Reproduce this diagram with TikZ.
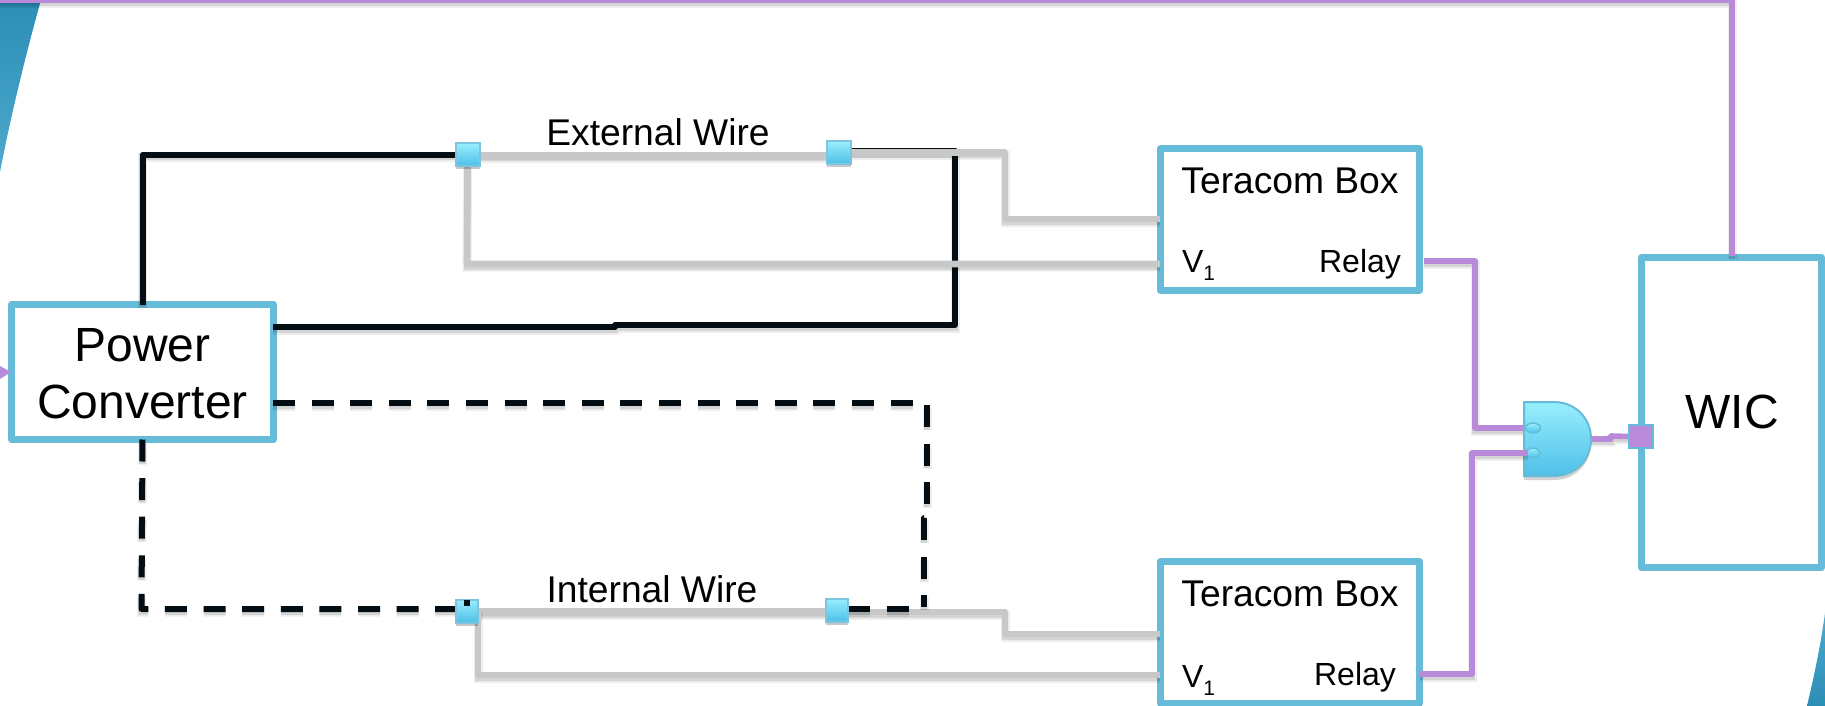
\documentclass[tikz,border=0pt]{standalone}
\usepackage{fontspec}
\setmainfont{Liberation Sans}
\pgfdeclarelayer{back}
\pgfdeclarelayer{front}
\pgfsetlayers{back,main,front}
\definecolor{boxblue}{HTML}{66BBD9}
\definecolor{wirepurple}{HTML}{B88AD9}
\definecolor{wiregrey}{HTML}{C8C8C8}
\definecolor{wireblack}{HTML}{020E14}
\definecolor{gradtop}{HTML}{98EFFD}
\definecolor{gradbot}{HTML}{4FBFE8}
\definecolor{cornerdark}{HTML}{2C8DB6}
\definecolor{cornerlight}{HTML}{4DAACD}
\tikzset{
  x=0.5pt,y=-0.5pt,
  shadowed/.style={preaction={draw=black,opacity=.07,line width=4.5pt,transform canvas={yshift=-1.6pt}},
                   preaction={draw=black,opacity=.10,line width=3.2pt,transform canvas={yshift=-1.3pt}}},
  dashshadowed/.style={preaction={draw=black,opacity=.07,line width=4.5pt,dash pattern=on 11pt off 8.3pt,transform canvas={yshift=-1.6pt}},
                   preaction={draw=black,opacity=.10,line width=3.2pt,dash pattern=on 11pt off 8.3pt,transform canvas={yshift=-1.3pt}}},
  blackwire/.style={shadowed,line join=round,draw=wireblack,line width=3pt},
  dashwire/.style={dashshadowed,line join=round,draw=wireblack,line width=3pt,dash pattern=on 11pt off 8.3pt},
  greywire/.style={shadowed,line join=round,draw=wiregrey,line width=3.3pt},
  purplewire/.style={shadowed,line join=round,draw=wirepurple,line width=2.8pt},
  bluebox/.style={draw=boxblue,line width=3.5pt,fill=white,line join=round,inner sep=0pt,outer sep=0pt},
  junction/.style={draw=boxblue!85!white,line width=1pt,top color=gradtop,bottom color=gradbot,minimum width=12pt,minimum height=11.5pt,inner sep=0pt,outer sep=0pt,
    preaction={draw=none,fill=black,opacity=.22,transform canvas={yshift=-1.6pt}}},
  plabel/.style={inner sep=0pt,outer sep=0pt,text=black},
  bigfont/.style={font=\fontsize{24}{28.5}\selectfont},
  midfont/.style={font=\fontsize{18.6}{22}\selectfont},
  wirefont/.style={font=\fontsize{18.6}{22}\selectfont},
  smallfont/.style={font=\fontsize{16}{18}\selectfont},
}
\newcommand{\vone}{V\raisebox{-4pt}{\fontsize{10.5}{10.5}\selectfont 1}}
\begin{document}
\begin{tikzpicture}
\useasboundingbox (0,0) rectangle (1825,706);
\begin{pgfonlayer}{back}
  \fill[white] (0,0) rectangle (1825,706);
  % decorative corners
  \shade[top color=cornerdark,bottom color=cornerlight]
    (0,0) -- (41,0) .. controls (27,50) and (12,110) .. (0,172) -- cycle;
  \shade[top color=cornerlight,bottom color=cornerdark]
    (1825,613) .. controls (1820,650) and (1813,680) .. (1807,706) -- (1825,706) -- cycle;
  % boxes
  \node[bluebox,minimum width=131pt,minimum height=67.5pt] (pc) at (142.5,372) {};
  \node[bluebox,minimum width=129.5pt,minimum height=71pt] (tera1) at (1290,219.5) {};
  \node[bluebox,minimum width=129.5pt,minimum height=70.75pt] (tera2) at (1290,632.25) {};
  \node[bluebox,minimum width=90pt,minimum height=155pt] (wic) at (1731.5,412.5) {};
\end{pgfonlayer}
% labels
\node[plabel,bigfont,align=center] (pclabel) at (142.5,373.5) {Power\\Converter};
\node[plabel,midfont] (t1) at (1290,181) {Teracom Box};
\node[plabel,midfont] (t2) at (1290,594) {Teracom Box};
\node[plabel,smallfont,anchor=base west] (v1) at (1182,272) {\vone};
\node[plabel,smallfont,anchor=base west] (v2) at (1182,687) {\vone};
\node[plabel,smallfont] (r1) at (1360,264) {Relay};
\node[plabel,smallfont] (r2) at (1355,677) {Relay};
\node[plabel,bigfont] (wiclabel) at (1732,412) {WIC};
\node[plabel,wirefont] (extlabel) at (658,132) {External Wire};
\node[plabel,wirefont] (intlabel) at (652,589) {Internal Wire};
% junctions
\begin{pgfonlayer}{front}
  \node[junction] (ext1) at (467.5,154.5) {};
  \node[junction] (ext2) at (838.5,152.5) {};
  \node[junction,minimum width=11pt] (int1) at (467,611) {};
  \node[junction,minimum width=11pt] (int2) at (837,610) {};
  \node[draw=boxblue,line width=1pt,fill=wirepurple,minimum width=12pt,minimum height=11.5pt,inner sep=0pt,outer sep=0pt] (wicport) at (1641,436.5) {};
\end{pgfonlayer}
% named turning and port points
\coordinate (gateIn1) at (1526,428);
\coordinate (gateIn2) at (1528,453);
\coordinate (gateOut) at (1590,439);
\coordinate (pcR1) at (273,327);
\coordinate (pcR2) at (273,403);
\coordinate (t1A) at (1160,219);
\coordinate (t1B) at (1160,264);
\coordinate (t2A) at (1160,634);
\coordinate (t2B) at (1160,675);
\coordinate (t1R) at (1424,261);
\coordinate (t2R) at (1420,674);
\coordinate (wicTop) at (1732,256);
% external wire
\draw[blackwire] (pc.north) |- (ext1.west);
\draw[blackwire] (ext2.east) ++(0,-2) -- (955,150.5) -- (955,325) -- (615,325) -- (615,327) -- (pcR1);
\draw[greywire,line width=4pt] (ext1.east) ++(0,1) -- (ext2.west |- 0,155.5);
\draw[greywire] (ext2.east) -- (1005,152.5) -- (1005,219) -- (t1A);
\draw[greywire] (ext1.south) -- (467,264) -- (t1B);
% internal wire
\draw[greywire,line width=4pt] (int1.east) ++(0,1) -- (int2.west |- 0,612);
\draw[greywire] (int2.east) ++(0,2) -- (1005,612) -- (1005,634) -- (t2A);
\draw[greywire] (478,609) -- (478,675) -- (t2B);
\draw[dashwire] (pc.south) -- (141.5,609) -- (int1.west |- 0,609);
\draw[dashwire] (pcR2) -- (927,403) -- (927,518) -- (924,518) -- (924,607);
\draw[dashwire] (int2.east |- 0,609) -- (924,609);
% purple signal wires
\draw[purplewire,line width=3pt] (0,0.5) -| (wicTop);
\draw[purplewire] (t1R) -- (1475,261) -- (1475,428) -- (gateIn1);
\draw[purplewire] (gateOut) -- (1611,439) -- (1611,436) -- (wicport.west);
\fill[wirepurple] (0,366) -- (11,372) -- (0,379) -- cycle;
% gate
\path[fill=black,opacity=.18,transform canvas={yshift=-2pt}]
  (1524,402) -- (1554,402) .. controls (1575,402) and (1591,418) .. (1591,439) .. controls (1591,460) and (1575,476) .. (1554,476) -- (1524,476) -- cycle;
\draw[draw=boxblue,line width=1pt,top color=gradtop,bottom color=gradbot]
  (1524,402) -- (1554,402) .. controls (1575,402) and (1591,418) .. (1591,439) .. controls (1591,460) and (1575,476) .. (1554,476) -- (1524,476) -- cycle;
\draw[draw=boxblue,line width=.7pt,top color=gradtop,bottom color=gradbot] (1533,428) ellipse[x radius=7.5,y radius=5];
\draw[draw=boxblue,line width=.7pt,top color=gradtop,bottom color=gradbot] (1533,453) ellipse[x radius=6.5,y radius=5];
\draw[purplewire] (t2R) -- (1472,674) -- (1472,453) -- (gateIn2);
% tick over first internal junction
\begin{pgfonlayer}{front}
  \draw[draw=wireblack,line width=2.8pt] (467,600) -- (467,606);
\end{pgfonlayer}
\end{tikzpicture}
\end{document}
